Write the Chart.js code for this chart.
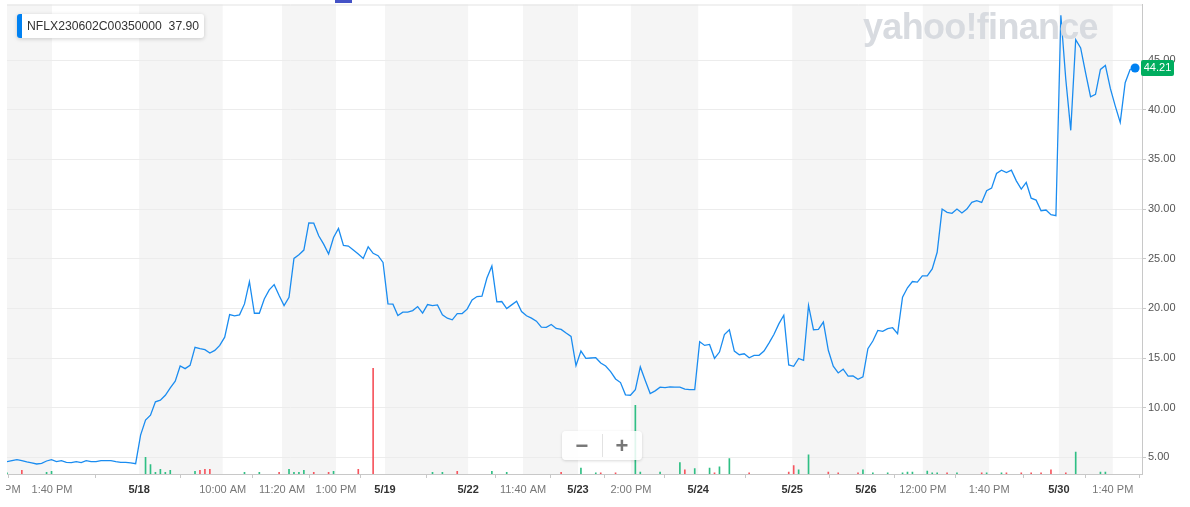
<!DOCTYPE html>
<html>
<head>
<meta charset="utf-8">
<script src="https://cdn.jsdelivr.net/npm/chart.js@4/dist/chart.umd.min.js"></script>
<style>
  body { margin: 0; background: #fff; }
  #wrap { position: relative; width: 1190px; height: 507px; overflow: hidden; font-family: "Liberation Sans", Arial, sans-serif; }
  #chart { position: absolute; left: 0; top: 0; }
  #legend { position: absolute; left: 17px; top: 14px; height: 24px; width: 177px; background: #fff;
            border-left: 5px solid #0081f2; border-radius: 3px; box-shadow: 0 1px 4px rgba(0,0,0,.18);
            font-size: 12.2px; color: #333; line-height: 24px; padding-left: 5px; white-space: pre; }
  #logo { position: absolute; left: 863px; top: 9px; font-weight: bold; font-size: 36px; line-height: 36px;
          color: #d8dbe0; letter-spacing: -0.7px; }
  #topmark { position: absolute; left: 335px; top: 0; width: 17px; height: 3px; background: #4452c6; }
  #zoomctl { position: absolute; left: 562px; top: 431px; width: 80px; height: 29px; background: rgba(255,255,255,.85);
             border-radius: 4px; box-shadow: 0 1px 3px rgba(0,0,0,.15); color: #777; font-weight: bold; font-size: 22px; }
  #zoomctl span { position: absolute; top: 0; width: 40px; text-align: center; line-height: 29px; }
  #zoomctl i { position: absolute; left: 40px; top: 3px; width: 1px; height: 23px; background: #e2e2e2; }
</style>
</head>
<body>
<div id="wrap">
  <canvas id="chart" width="1190" height="507"></canvas>
  <div id="topmark"></div>
  <div id="legend">NFLX230602C00350000  37.90</div>
  <div id="logo">yahoo!finance</div>
  <div id="zoomctl"><span style="left:0">&minus;</span><i></i><span style="left:40px">+</span></div>
</div>
<script>
// option price, one value per sample (index 0..228)
const prices = [
  4.57, 4.67, 4.77, 4.67, 4.53, 4.43, 4.33, 4.40, 4.63, 4.77,
  4.57, 4.67, 4.50, 4.47, 4.57, 4.47, 4.67, 4.57, 4.57, 4.67,
  4.67, 4.67, 4.57, 4.50, 4.50, 4.43, 4.36, 7.24, 8.75, 9.25,
  10.59, 10.75, 11.25, 11.99, 12.66, 14.20, 13.93, 14.26, 16.07, 15.94,
  15.84, 15.50, 15.77, 16.27, 17.10, 19.38, 19.25, 19.35, 20.45, 22.69,
  19.51, 19.51, 20.95, 21.86, 22.39, 21.29, 20.28, 21.12, 25.03, 25.40,
  25.87, 28.61, 28.58, 27.31, 26.47, 25.47, 27.14, 28.04, 26.34, 26.27,
  25.87, 25.47, 25.03, 26.20, 25.54, 25.30, 24.63, 20.45, 20.42, 19.28,
  19.62, 19.62, 19.78, 20.18, 19.52, 20.38, 20.28, 20.35, 19.35, 19.01,
  18.85, 19.48, 19.48, 19.92, 20.85, 21.19, 21.22, 23.06, 24.26, 20.65,
  20.69, 19.98, 20.35, 20.72, 19.68, 19.25, 19.01, 18.71, 18.11, 18.08,
  18.38, 17.98, 17.88, 17.51, 17.17, 14.23, 15.70, 14.97, 15.00, 15.03,
  14.50, 14.20, 13.63, 12.89, 12.53, 11.29, 11.25, 11.82, 14.10, 12.73,
  11.42, 11.69, 12.06, 12.02, 12.09, 12.06, 12.06, 11.86, 11.82, 11.82,
  16.64, 16.27, 16.37, 14.97, 15.60, 17.37, 17.84, 15.70, 15.33, 15.43,
  15.03, 15.27, 15.27, 15.70, 16.50, 17.37, 18.44, 19.31, 14.30, 14.16,
  14.95, 14.77, 20.29, 17.85, 17.88, 18.62, 15.78, 14.17, 13.50, 13.87,
  13.17, 13.20, 12.86, 13.10, 15.94, 16.71, 17.78, 17.68, 17.95, 18.05,
  17.45, 21.13, 22.07, 22.70, 22.64, 23.27, 23.27, 23.98, 25.65, 30.00,
  29.67, 29.57, 30.00, 29.60, 30.00, 30.67, 30.84, 30.67, 31.84, 32.11,
  33.58, 33.92, 33.68, 33.92, 32.84, 32.01, 32.68, 31.10, 30.90, 29.83,
  29.90, 29.43, 29.33, 49.51, 43.05, 37.93, 47.07, 46.23, 43.72, 41.31,
  41.55, 44.06, 44.46, 42.15, 40.37, 38.73, 42.72, 44.06, 44.21
];

// volume, [sample index, contracts]
const volUp = [
  [0, 6], [8, 8], [9, 12], [28, 78], [29, 44], [30, 8], [31, 22], [32, 8], [33, 17], [38, 12],
  [48, 8], [51, 8], [57, 22], [58, 8], [59, 8], [60, 17], [66, 12], [86, 8], [88, 8], [98, 12],
  [101, 8], [116, 28], [119, 6], [127, 322], [128, 9], [132, 9], [136, 53], [139, 25], [142, 28],
  [144, 34], [146, 72], [160, 19], [162, 90], [173, 19], [175, 6], [178, 6], [181, 6], [182, 9],
  [183, 9], [186, 14], [187, 6], [188, 6], [192, 6], [198, 6], [201, 6], [216, 103], [221, 9], [222, 9]
];
const volDown = [
  [3, 17], [39, 17], [40, 22], [41, 22], [55, 8], [62, 8], [65, 8], [71, 22], [74, 495], [91, 12],
  [112, 8], [120, 6], [123, 6], [137, 19], [143, 6], [150, 6], [158, 9], [159, 39], [166, 9],
  [168, 6], [172, 6], [190, 6], [197, 6], [202, 6], [205, 6], [207, 6], [209, 6], [211, 20], [214, 6]
];

// x axis ticks (sample index position, label); the first one sits off the left edge
const tickPos = [-1.4, 9.1, 26.7, 43.6, 55.6, 66.5, 76.4, 93.2, 104.3, 115.4, 126.1, 139.7, 158.7, 173.6, 185.1, 198.5, 212.6, 223.5];
const tickLabels = ['1:00 PM', '1:40 PM', '5/18', '10:00 AM', '11:20 AM', '1:00 PM', '5/19', '5/22', '11:40 AM', '5/23',
  '2:00 PM', '5/24', '5/25', '5/26', '12:00 PM', '1:40 PM', '5/30', '1:40 PM'];
const priceTicks = [5, 10, 15, 20, 25, 30, 35, 40, 45];

const FONT = '"Liberation Sans", Arial, sans-serif';
const shownTicks = tickPos.map((p, i) => ({ p, label: tickLabels[i] })).filter(t => t.p >= 0);
const tickIsDate = i => !!shownTicks[i] && shownTicks[i].label.indexOf('/') >= 0;

const decor = {
  id: 'decor',
  beforeDraw(chart) {
    const c = chart.ctx, a = chart.chartArea, xs = chart.scales.x;
    const edges = [a.left].concat(shownTicks.map(t => xs.getPixelForValue(t.p)), [a.right]);
    c.save();
    c.fillStyle = '#f5f5f5';
    for (let k = 0; k < edges.length - 1; k += 2) {
      c.fillRect(edges[k], a.top, edges[k + 1] - edges[k], a.bottom - a.top);
    }
    c.strokeStyle = '#e3e3e3';
    c.lineWidth = 1;
    c.beginPath();
    c.moveTo(a.left, a.top + 0.5);
    c.lineTo(a.right, a.top + 0.5);
    c.stroke();
    c.restore();
  },
  afterDraw(chart) {
    const c = chart.ctx, a = chart.chartArea, xs = chart.scales.x, ys = chart.scales.y;
    c.save();
    // label of the tick that is cut off on the left
    c.beginPath();
    c.rect(a.left - 1, a.bottom, chart.width, chart.height - a.bottom);
    c.clip();
    c.font = '11px ' + FONT;
    c.fillStyle = '#777';
    c.textAlign = 'center';
    c.textBaseline = 'middle';
    tickPos.forEach((p, i) => {
      if (p < 0) c.fillText(tickLabels[i], xs.getPixelForValue(p), 490);
    });
    c.restore();
    // last price tag
    c.save();
    const last = prices[prices.length - 1];
    const y = ys.getPixelForValue(last);
    c.fillStyle = '#00ad5f';
    c.beginPath();
    c.roundRect(a.right - 1, y - 8, 33, 16, 2);
    c.fill();
    c.font = '11px ' + FONT;
    c.fillStyle = '#fff';
    c.textAlign = 'center';
    c.textBaseline = 'middle';
    c.fillText(last.toFixed(2), a.right + 15.5, y + 0.5);
    c.restore();
  }
};

new Chart(document.getElementById('chart'), {
  type: 'line',
  data: {
    datasets: [
      {
        type: 'line',
        data: prices.map((v, i) => ({ x: i, y: v })),
        borderColor: '#1a8cf0',
        borderWidth: 1.3,
        tension: 0,
        pointRadius: ctx => (ctx.dataIndex === prices.length - 1 ? 4.5 : 0),
        pointBackgroundColor: '#0081f2',
        pointBorderWidth: 0,
        yAxisID: 'y',
        order: 0
      },
      {
        type: 'bar',
        data: volUp.map(d => ({ x: d[0], y: d[1] })),
        backgroundColor: '#2fbf84',
        barThickness: 1,
        grouped: false,
        yAxisID: 'yv',
        order: 1
      },
      {
        type: 'bar',
        data: volDown.map(d => ({ x: d[0], y: d[1] })),
        backgroundColor: '#f6555e',
        barThickness: 1,
        grouped: false,
        yAxisID: 'yv',
        order: 1
      }
    ]
  },
  options: {
    responsive: false,
    animation: false,
    layout: { padding: { left: 7, top: 3, right: 0, bottom: 0 } },
    plugins: { legend: { display: false }, tooltip: { enabled: false } },
    scales: {
      x: {
        type: 'linear',
        min: 0,
        max: 229.4,
        offset: false,
        afterBuildTicks: s => { s.ticks = shownTicks.map(t => ({ value: t.p })); },
        afterFit: s => { s.height = 33; s.paddingLeft = 0; s.paddingRight = 0; },
        grid: { drawOnChartArea: false, tickLength: 4, color: '#c8c8c8' },
        border: { color: '#c8c8c8' },
        ticks: {
          autoSkip: false,
          maxRotation: 0,
          padding: 5,
          callback: (v, i) => (shownTicks[i] ? shownTicks[i].label : ''),
          color: ctx => (tickIsDate(ctx.index) ? '#333' : '#777'),
          font: ctx => ({ family: FONT, size: 11, weight: tickIsDate(ctx.index) ? 'bold' : 'normal' })
        }
      },
      y: {
        position: 'right',
        min: 3.32,
        max: 50.6,
        afterBuildTicks: s => { s.ticks = priceTicks.map(v => ({ value: v })); },
        afterFit: s => { s.width = 48; s.paddingTop = 0; s.paddingBottom = 0; },
        grid: { color: '#ececec', tickLength: 4, tickColor: '#c8c8c8' },
        border: { color: '#c8c8c8' },
        ticks: {
          padding: 2,
          color: '#555',
          font: { family: FONT, size: 11 },
          callback: v => v.toFixed(2)
        }
      },
      yv: {
        display: false,
        min: 0,
        max: 2200
      }
    }
  },
  plugins: [decor]
});
</script>
</body>
</html>
